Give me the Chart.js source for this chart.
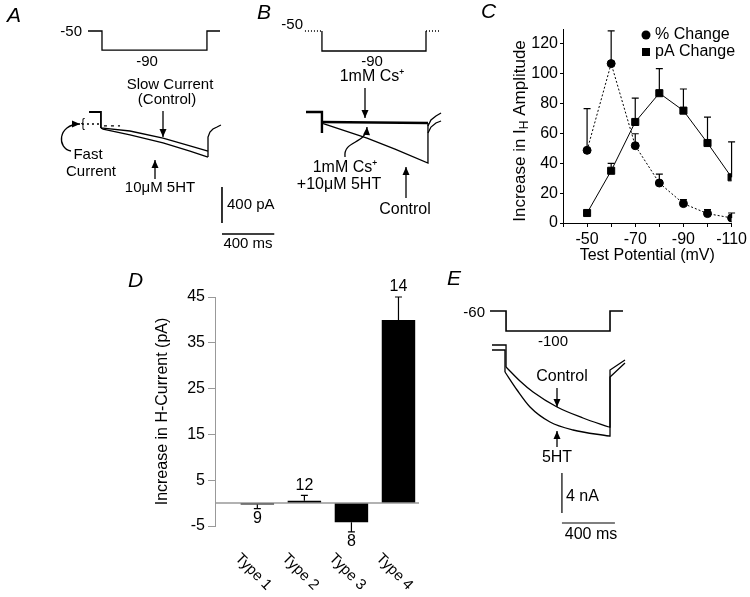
<!DOCTYPE html>
<html>
<head>
<meta charset="utf-8">
<script src="https://cdn.jsdelivr.net/npm/chart.js@4.4.0/dist/chart.umd.min.js"></script>
<style>
  body { margin: 0; background: #fff; }
  #wrap { position: relative; width: 750px; height: 597px; }
  #wrap canvas { position: absolute; left: 0; top: 0; }
</style>
</head>
<body>
<div id="wrap">
  <canvas id="panelA" width="750" height="597"></canvas>
  <canvas id="panelB" width="750" height="597"></canvas>
  <canvas id="panelC" width="750" height="597"></canvas>
  <canvas id="panelD" width="750" height="597"></canvas>
  <canvas id="panelE" width="750" height="597"></canvas>
</div>
<script>
// ---- panel C: 5HT effect vs test potential
var testPotential = [-50, -60, -70, -80, -90, -100, -110];
var pctChange = [48.7, 106.8, 51.8, 26.8, 13, 6.3, 3.4];
var pctErr = [28, 22, 8, 6, 2.6, 2.7, 3.3];
var paChange = [6.7, 35, 67.7, 87, 75.3, 53.6, 30.6];
var paErr = [0, 5, 16, 16.5, 14.5, 17.4, 23.7];
var potTicks = [-40, -50, -60, -70, -80, -90, -100, -110];
var potLabels = [-50, -70, -90, -110];
var ampTicks = [0, 20, 40, 60, 80, 100, 120];

// ---- panel D: H-current increase per cell type
var cellTypes = ['Type 1', 'Type 2', 'Type 3', 'Type 4'];
var hIncrease = [-0.3, 0.5, -4.2, 40];
var hErr = [0.9, 1.2, 2.1, 5];
var cellCounts = [9, 12, 8, 14];
var hTicks = [-5, 5, 15, 25, 35, 45];

// ---- traces, [ms, pA] and [ms, mV]
var aStep = [[0, -50], [107, -50], [107, -90], [910, -90], [910, -50], [1010, -50]];
var aHold = [[8, 0], [99, 0], [99, -178]];
var aFast = [[-46, -133], [99, -133]];
var aFast2 = [[122, -155], [245, -155]];
var aControl = [[99, -178], [115, -178], [321, -211], [574, -289], [780, -377], [918, -433]];
var a5ht = [[99, -178], [115, -189], [321, -255], [574, -344], [780, -433], [918, -500]];
var aTail = [[918, -500], [918, -278], [933, -222], [956, -189], [987, -167], [1017, -144]];
var aBarV = [[1025, -832], [1025, -1232]];
var aBarH = [[1025, -1354], [1425, -1354]];

var bStep = [[-8, -50], [122, -50], [122, -90], [918, -90], [918, -50], [1025, -50]];
var bHold = [[0, 0], [122, 0], [122, -233]];
var bCs = [[122, -111], [933, -122]];
var bControl = [[122, -122], [138, -133], [467, -289], [681, -411], [933, -566], [933, -122]];
var bTail1 = [[933, -155], [956, -89], [994, -44], [1033, -11]];
var bTail2 = [[933, -233], [956, -167], [994, -122], [1033, -100]];

var eStep = [[-15, -60], [106, -60], [106, -100], [891, -100], [891, -60], [989, -60]];
var eCtlHold = [[0, 0], [106, 0], [106, -2200]];
var eCtlDecay = [[106, -2200], [211, -3600], [310, -4700], [491, -6200], [687, -7300], [883, -8200]];
var eCtlEnd = [[883, -8200], [891, -8200], [891, -2500], [1004, -1500]];
var e5htHold = [[0, -500], [98, -500], [98, -2700]];
var e5htDecay = [[98, -2700], [189, -4500], [287, -6200], [438, -7700], [612, -8500], [883, -9100]];
var e5htEnd = [[883, -9100], [891, -9100], [891, -3200], [1004, -1800]];
var eBarV = [[528, -12800], [528, -16800]];
var eBarH = [[528, -17800], [928, -17800]];

var FONT = '"Liberation Sans", Arial, Helvetica, sans-serif';
Chart.defaults.font.family = FONT;
Chart.defaults.color = '#000';

function drawArrow(ctx, a) {
  ctx.beginPath();
  ctx.moveTo(a.x1, a.y1);
  var fx = a.x1, fy = a.y1;
  if (a.c1) {
    ctx.bezierCurveTo(a.c1[0], a.c1[1], a.c2[0], a.c2[1], a.x2, a.y2);
    fx = a.c2[0]; fy = a.c2[1];
  } else {
    ctx.lineTo(a.x2, a.y2);
  }
  ctx.lineWidth = 1.3;
  ctx.stroke();
  var ang = Math.atan2(a.y2 - fy, a.x2 - fx);
  var len = 8, half = 3.5;
  ctx.beginPath();
  ctx.moveTo(a.x2, a.y2);
  ctx.lineTo(a.x2 - len * Math.cos(ang) + half * Math.sin(ang), a.y2 - len * Math.sin(ang) - half * Math.cos(ang));
  ctx.lineTo(a.x2 - len * Math.cos(ang) - half * Math.sin(ang), a.y2 - len * Math.sin(ang) + half * Math.cos(ang));
  ctx.closePath();
  ctx.fill();
}

// text labels and arrows, in page pixels
var notesPlugin = {
  id: 'notes',
  afterDraw: function(chart, args, opts) {
    var ctx = chart.ctx;
    ctx.save();
    ctx.fillStyle = '#000';
    ctx.strokeStyle = '#000';
    (opts.texts || []).forEach(function(t) {
      ctx.font = (t.style || '') + ' ' + (t.size || 15) + 'px ' + FONT;
      ctx.textAlign = t.align || 'center';
      ctx.textBaseline = 'middle';
      ctx.fillText(t.t, t.x, t.y);
    });
    (opts.arrows || []).forEach(function(a) { drawArrow(ctx, a); });
    ctx.restore();
  }
};

function line(pairs, opts) {
  opts = opts || {};
  return {
    data: pairs.map(function(p) { return { x: p[0], y: p[1] }; }),
    yAxisID: opts.axis || 'y',
    borderColor: opts.color || '#000',
    borderWidth: opts.width || 1.3,
    borderDash: opts.dash || [],
    cubicInterpolationMode: opts.smooth ? 'monotone' : 'default',
    segment: opts.segment,
    pointRadius: 0,
    fill: false
  };
}

function traceChart(id, datasets, frame, notes) {
  return new Chart(document.getElementById(id), {
    type: 'line',
    data: { datasets: datasets },
    options: {
      responsive: false,
      animation: false,
      events: [],
      layout: { padding: 0 },
      plugins: { legend: { display: false }, tooltip: { enabled: false }, notes: notes },
      scales: {
        x: { type: 'linear', display: false, min: frame.t[0], max: frame.t[1] },
        y: { type: 'linear', display: false, min: frame.i[0], max: frame.i[1] },
        v: { type: 'linear', display: false, min: frame.v[0], max: frame.v[1] }
      }
    },
    plugins: [notesPlugin]
  });
}

// ---- A
traceChart('panelA', [
  line(aStep, { axis: 'v' }),
  line(aHold, { width: 1.8 }),
  line(aFast, { dash: [2, 3] }),
  line(aFast2, { dash: [3, 4] }),
  line(aControl),
  line(a5ht),
  line(aTail),
  line(aBarV, { width: 1.6 }),
  line(aBarH, { width: 1.6 })
], { t: [-673.2, 5064.3], i: [-5383.5, 1243.2], v: [-1238.6, 15.1] }, {
  texts: [
    { t: 'A', x: 7, y: 16, align: 'left', size: 21, style: 'italic' },
    { t: '-50', x: 82, y: 32, align: 'right' },
    { t: '-90', x: 147, y: 62 },
    { t: 'Slow Current', x: 170, y: 85 },
    { t: '(Control)', x: 167, y: 100 },
    { t: '{', x: 83, y: 124, size: 12 },
    { t: 'Fast', x: 88, y: 155 },
    { t: 'Current', x: 91, y: 172 },
    { t: '10\u03bcM 5HT', x: 160, y: 188 },
    { t: '400 pA', x: 227, y: 205, align: 'left' },
    { t: '400 ms', x: 248, y: 244 }
  ],
  arrows: [
    { x1: 163, y1: 111, x2: 163, y2: 137 },
    { x1: 155, y1: 179, x2: 155, y2: 160 },
    { x1: 71, y1: 151, c1: [57, 149], c2: [57, 124], x2: 80, y2: 124 }
  ]
});

// ---- B
var holdDots = function(c) { return (c.p0DataIndex === 0 || c.p0DataIndex === 4) ? [1, 2] : undefined; };
traceChart('panelB', [
  line(bStep, { axis: 'v', segment: { borderDash: holdDots } }),
  line(bHold, { width: 2.4 }),
  line(bCs, { width: 2.6 }),
  line(bControl),
  line(bTail1),
  line(bTail2)
], { t: [-2340.9, 3396.6], i: [-5383.5, 1243.2], v: [-1182, 12] }, {
  texts: [
    { t: 'B', x: 257, y: 13, align: 'left', size: 21, style: 'italic' },
    { t: '-50', x: 303, y: 25, align: 'right' },
    { t: '-90', x: 372, y: 62 },
    { t: '1mM Cs\u207a', x: 372, y: 77, size: 16 },
    { t: '1mM Cs\u207a', x: 345, y: 168, size: 16 },
    { t: '+10\u03bcM 5HT', x: 339, y: 185, size: 16 },
    { t: 'Control', x: 405, y: 210, size: 16 }
  ],
  arrows: [
    { x1: 365, y1: 88, x2: 365, y2: 118 },
    { x1: 406, y1: 198, x2: 406, y2: 167 },
    { x1: 345, y1: 157, c1: [343, 140], c2: [366, 145], x2: 367, y2: 127 }
  ]
});

// ---- E
traceChart('panelE', [
  line(eStep, { axis: 'v', width: 1.6 }),
  line(eCtlHold), line(eCtlDecay, { smooth: true }), line(eCtlEnd),
  line(e5htHold), line(e5htDecay, { smooth: true }), line(e5htEnd),
  line(eBarV, { width: 1.2 }),
  line(eBarH, { width: 1.2 })
], { t: [-3714.6, 1947.9], i: [-25200, 34500], v: [-632, 562] }, {
  texts: [
    { t: 'E', x: 447, y: 279, align: 'left', size: 21, style: 'italic' },
    { t: '-60', x: 485, y: 313, align: 'right' },
    { t: '-100', x: 553, y: 342 },
    { t: 'Control', x: 562, y: 377, size: 16 },
    { t: '5HT', x: 557, y: 458, size: 16 },
    { t: '4 nA', x: 566, y: 497, align: 'left', size: 16 },
    { t: '400 ms', x: 591, y: 535, size: 16 }
  ],
  arrows: [
    { x1: 557, y1: 388, x2: 557, y2: 407 },
    { x1: 557, y1: 447, x2: 557, y2: 431 }
  ]
});

// one-sided error bars with caps
var errorBarPlugin = {
  id: 'errorBars',
  beforeDatasetsDraw: function(chart) {
    var ctx = chart.ctx, ys = chart.scales.y;
    ctx.save();
    ctx.strokeStyle = '#000';
    ctx.lineWidth = 1.2;
    chart.data.datasets.forEach(function(ds, di) {
      if (!ds.errors) return;
      var meta = chart.getDatasetMeta(di);
      meta.data.forEach(function(el, i) {
        var e = ds.errors[i];
        if (!e) return;
        var d = ds.data[i];
        var v = typeof d === 'object' ? d.y : d;
        var tip = v < 0 ? v - e : v + e;
        var y0 = ys.getPixelForValue(v), y1 = ys.getPixelForValue(tip);
        ctx.beginPath();
        ctx.moveTo(el.x, y0); ctx.lineTo(el.x, y1);
        ctx.moveTo(el.x - 3.5, y1); ctx.lineTo(el.x + 3.5, y1);
        ctx.stroke();
      });
    });
    ctx.restore();
  }
};

// ---- C
var ampTitlePlugin = {
  id: 'ampTitle',
  afterDraw: function(chart) {
    var ctx = chart.ctx;
    ctx.save();
    ctx.translate(520, 131);
    ctx.rotate(-Math.PI / 2);
    ctx.fillStyle = '#000';
    ctx.textBaseline = 'middle';
    ctx.textAlign = 'left';
    var big = '17px ' + FONT, small = '12px ' + FONT;
    ctx.font = big;
    var w1 = ctx.measureText('Increase in I').width;
    var w3 = ctx.measureText(' Amplitude').width;
    ctx.font = small;
    var w2 = ctx.measureText('H').width;
    var x = -(w1 + w2 + w3) / 2;
    ctx.font = big;
    ctx.fillText('Increase in I', x, 0);
    ctx.font = small;
    ctx.fillText('H', x + w1, 5);
    ctx.font = big;
    ctx.fillText(' Amplitude', x + w1 + w2, 0);
    ctx.restore();

    // legend
    ctx.save();
    ctx.fillStyle = '#000';
    ctx.font = '16px ' + FONT;
    ctx.textBaseline = 'middle';
    ctx.textAlign = 'left';
    ctx.beginPath(); ctx.arc(646, 35, 4.5, 0, Math.PI * 2); ctx.fill();
    ctx.fillRect(642, 48, 8, 8);
    ctx.fillText(chart.data.datasets[0].label, 655, 35);
    ctx.fillText(chart.data.datasets[1].label, 655, 52);
    ctx.restore();
  }
};

new Chart(document.getElementById('panelC'), {
  type: 'line',
  data: {
    datasets: [{
      label: '% Change',
      data: testPotential.map(function(v, i) { return { x: v, y: pctChange[i] }; }),
      errors: pctErr,
      borderColor: '#000', borderWidth: 1, borderDash: [2, 2],
      pointStyle: 'circle', pointRadius: 4, pointBackgroundColor: '#000', pointBorderColor: '#000'
    }, {
      label: 'pA Change',
      data: testPotential.map(function(v, i) { return { x: v, y: paChange[i] }; }),
      errors: paErr,
      borderColor: '#000', borderWidth: 1,
      pointStyle: 'rect', pointRadius: 5, pointBackgroundColor: '#000', pointBorderColor: '#000'
    }]
  },
  options: {
    responsive: false, animation: false, events: [],
    layout: { padding: { left: 503, top: 29, right: 15, bottom: 332 } },
    plugins: { legend: { display: false }, tooltip: { enabled: false },
      notes: { texts: [{ t: 'C', x: 481, y: 12, align: 'left', size: 21, style: 'italic' }] } },
    scales: {
      x: {
        type: 'linear', reverse: true, min: -110, max: -40,
        afterBuildTicks: function(s) { s.ticks = potTicks.map(function(v) { return { value: v }; }); },
        afterFit: function(s) { s.height = 42; },
        ticks: { autoSkip: false, maxRotation: 0, padding: 3, font: { size: 16 },
          callback: function(v) { return potLabels.indexOf(v) >= 0 ? String(v) : ''; } },
        grid: { drawOnChartArea: false, color: '#000', tickLength: 4 },
        border: { color: '#000', width: 1 },
        title: { display: true, text: 'Test Potential (mV)', font: { size: 16 }, padding: 0 }
      },
      y: {
        min: 0, max: 130,
        afterBuildTicks: function(s) { s.ticks = ampTicks.map(function(v) { return { value: v }; }); },
        afterFit: function(s) { s.width = 60; },
        ticks: { padding: 2, font: { size: 16 } },
        grid: { drawOnChartArea: false, color: '#000', tickLength: 3 },
        border: { color: '#000', width: 1 }
      }
    }
  },
  plugins: [errorBarPlugin, ampTitlePlugin, notesPlugin]
});

// ---- D
var typeLabelPlugin = {
  id: 'typeLabels',
  afterDatasetsDraw: function(chart) {
    var ctx = chart.ctx, xs = chart.scales.x, ys = chart.scales.y;
    ctx.save();
    ctx.strokeStyle = '#999';
    ctx.lineWidth = 1.5;
    ctx.beginPath();
    ctx.moveTo(chart.chartArea.left, ys.getPixelForValue(0));
    ctx.lineTo(chart.chartArea.right - 3, ys.getPixelForValue(0));
    ctx.stroke();
    ctx.fillStyle = '#000';
    ctx.textBaseline = 'middle';
    cellTypes.forEach(function(name, i) {
      var x = xs.getPixelForValue(i + 1);
      var v = hIncrease[i], tip = v < 0 ? v - hErr[i] : v + hErr[i];
      ctx.font = '16px ' + FONT;
      ctx.textAlign = 'center';
      ctx.fillText(String(cellCounts[i]), x, ys.getPixelForValue(tip) + (v < 0 ? 10 : -10));
      ctx.save();
      ctx.font = '15px ' + FONT;
      ctx.translate(x - 20, 556);
      ctx.rotate(Math.PI / 4);
      ctx.textAlign = 'left';
      ctx.fillText(name, 0, 0);
      ctx.restore();
    });
    ctx.restore();
  }
};

new Chart(document.getElementById('panelD'), {
  type: 'bar',
  data: {
    datasets: [{
      data: hIncrease.map(function(v, i) { return { x: i + 1, y: v }; }),
      errors: hErr,
      backgroundColor: '#000',
      borderWidth: 0,
      barPercentage: 0.79,
      categoryPercentage: 1
    }]
  },
  options: {
    responsive: false, animation: false, events: [],
    layout: { padding: { left: 153, top: 297, right: 328, bottom: 71 } },
    plugins: { legend: { display: false }, tooltip: { enabled: false },
      notes: { texts: [{ t: 'D', x: 128, y: 281, align: 'left', size: 21, style: 'italic' }] } },
    scales: {
      x: { type: 'linear', display: false, offset: false, min: 0.1, max: 4.5 },
      y: {
        min: -5, max: 45,
        afterBuildTicks: function(s) { s.ticks = hTicks.map(function(v) { return { value: v }; }); },
        afterFit: function(s) { s.width = 62; },
        ticks: { padding: 3, font: { size: 16 } },
        grid: { drawOnChartArea: false, color: '#999', tickLength: 7 },
        border: { color: '#999', width: 1 },
        title: { display: true, text: 'Increase in H-Current (pA)', font: { size: 16 }, padding: 0 }
      }
    }
  },
  plugins: [errorBarPlugin, typeLabelPlugin, notesPlugin]
});
</script>
</body>
</html>
